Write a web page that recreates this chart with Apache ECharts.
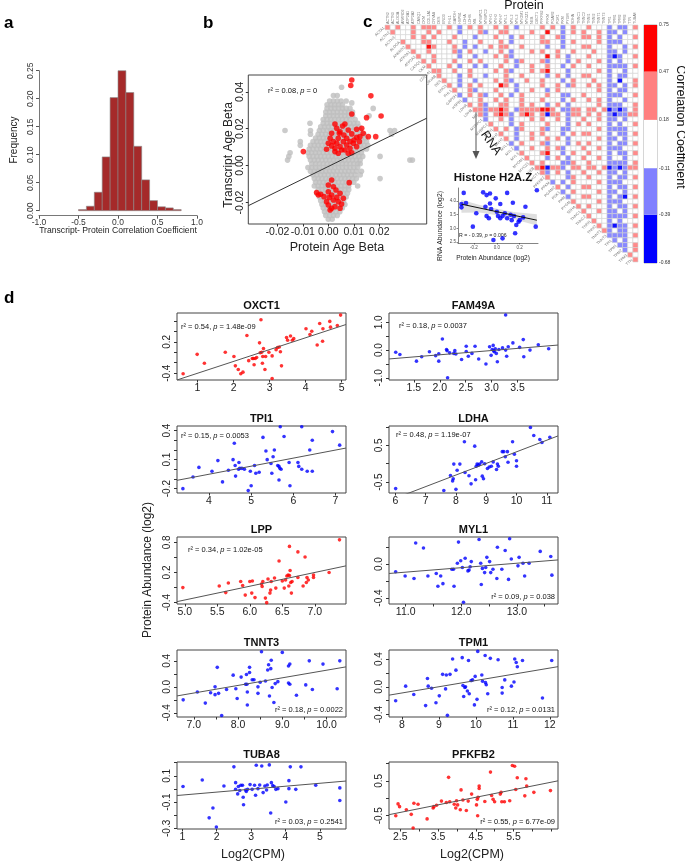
<!DOCTYPE html>
<html><head><meta charset="utf-8">
<script src="https://cdn.jsdelivr.net/npm/echarts@6/dist/echarts.min.js"></script>
<style>html,body{margin:0;padding:0;background:#fff}#c{width:685px;height:862px}</style>
</head><body><div id="c"></div>
<script>
// ================= DATA =================
// Panel a: histogram of transcript-protein correlation
const histEdges = [-0.5,-0.4,-0.3,-0.2,-0.1,0,0.1,0.2,0.3,0.4,0.5,0.6,0.7,0.8];
const histFreq  = [0.002,0.008,0.033,0.096,0.202,0.250,0.211,0.115,0.055,0.018,0.007,0.005,0.002];

// Panel b: age betas, in units of 0.001 ([y, [x...]] rows for the grey cloud)
const bGreyRowsMilli = [
 [42.5,[5.2]],[38,[2.0,3.5]],[35,[0.5,2,3.5,5,7]],[34,[9.2]],
 [33,[-0.5,1,2.5,4,5.5]],[31,[-0.5,1,2.5,4,5.5,7,8.5,17.6]],
 [29,[-1,0.5,2,3.5,5,6.5,8,9.5]],[27,[-1,0.5,2,3.5,5,6.5,8,9.5,16]],
 [25,[-2,-0.5,1,2.5,4,5.5,7,8.5,10.5]],[23,[-7.2,-2,-0.5,1,2.5,4,5.5,7,8.5,10,11.5]],
 [21,[-3,-1.5,0,1.5,3,4.5,6,7.5,9,10.5,12]],
 [19,[-17,-7,-3.5,-2,-0.5,1,2.5,4,5.5,7,8.5,10,11.5,12.5,24.2,26]],
 [17,[-7,-4,-2.5,-1,0.5,2,3.5,5,6.5,8,9.5,11,12.5,14,24.8]],
 [15,[-5,-3.5,-2,-0.5,1,2.5,4,5.5,7,8.5,10,11.5,13,14.5]],
 [13,[-11,-6,-4.5,-3,-1.5,0,1.5,3,4.5,6,7.5,9,10.5,12,13.5,15]],
 [11,[-11,-7,-5.5,-4,-2.5,-1,0.5,2,3.5,5,6.5,8,9.5,11,12.5,14,15.5]],
 [9,[-7.5,-6,-4.5,-3,-1.5,0,1.5,3,4.5,6,7.5,9,10.5,12,13.5,15]],
 [7,[-15,-8,-6.5,-5,-3.5,-2,-0.5,1,2.5,4,5.5,7,8.5,10,11.5,13]],
 [5,[-15.5,-7.5,-6,-4.5,-3,-1.5,0,1.5,3,4.5,6,7.5,9,10.5,12,13.5,20.3]],
 [3,[-16,-7,-5.5,-4,-2.5,-1,0.5,2,3.5,5,6.5,8,9.5,11,12.5,32,33]],
 [1,[-6.5,-5,-3.5,-2,-0.5,1,2.5,4,5.5,7,8.5,10,11.5,12.5]],
 [-1,[-8,-6.5,-5,-3.5,-2,-0.5,1,2.5,4,5.5,7,8.5,10,11.5]],
 [-3,[-7,-5.5,-4,-2.5,-1,0.5,2,3.5,5,6.5,8,9.5,11,13]],
 [-5,[-6,-4.5,-3,-1.5,0,1.5,3,4.5,6,7.5,9,10.5,12.5]],
 [-7,[-5.5,-4,-2.5,-1,0.5,2,3.5,5,6.5,8,9.5,11,20.3]],
 [-9,[-5,-3.5,-2,-0.5,1,2.5,4,5.5,7,8.5,10]],
 [-11,[-5.5,-4,-2.5,-1,0.5,2,3.5,5,6.5,8,11.5]],
 [-13,[-4,-2.5,-1,0.5,2,3.5,5,6.5,8]],
 [-15,[-4.5,-3,-1.5,0,1.5,3,4.5,6,7.5]],
 [-17,[-3.5,-2,-0.5,1,2.5,4,5.5,7]],
 [-19,[-3,-1.5,0,1.5,3,4.5,6]],
 [-21,[-2.5,-1,0.5,2,3.5,5,6.5]],
 [-23,[-2,-0.5,1,2.5,4,5.5]],
 [-25,[-1.5,0,1.5,3,4.5]],
 [-27,[-1,0.5,2,3.5]],
 [-29,[0,1.5]],
 [-34,[-1]]
];
const bRedMilli = [
 [9.2,46.4],[8.8,43.4],[16.7,37.8],[9.2,28.0],[15.0,26.0],[20.7,26.9],[18.6,15.7],[-9.8,7.6],
 [2.6,22.6],[6.5,22.6],[3.3,20.2],[5.6,21.5],[7.8,19.3],[11.1,19.7],[13.1,20.2],[13.7,17.5],
 [12.4,15.7],[15.7,15.7],[1.3,17.5],[4.3,17.5],[6.1,16.6],[9.2,17.2],[11.1,15.4],[-0.7,8.9],
 [1.3,10.7],[3.3,12.1],[4.6,10.3],[5.9,13.0],[7.2,11.2],[8.5,9.4],[9.8,12.1],[11.1,10.3],
 [2.6,7.6],[3.9,6.7],[5.2,8.5],[7.8,6.7],[9.2,7.0],[0.7,14.8],[2.0,13.0],[3.9,14.8],
 [7.2,14.8],[10.1,13.9],[12.2,13.0],[4.6,18.4],[0,12.1],[2.6,9.4],[6.5,8.5],[8.5,13.0],
 [1.3,-7.8],[8.2,-9.2],[0,-10.5],[2.0,-11.4],[3.0,-13.2],[0,-14.1],[-4.6,-14.6],[-3.9,-15.9],
 [-3.0,-15.5],[1.3,-15.9],[3.3,-17.2],[4.6,-15.0],[5.9,-17.7],[-0.7,-19.5],[2.0,-18.6],[3.9,-19.5],
 [5.2,-20.8],[0,-21.3],[1.3,-23.1],[0.7,-24.0],[2.6,-22.2],[-1.7,-16.8],[0.4,-17.2],[4.6,-23.1]
];
const bFit = [0.677, -0.00044]; // slope, intercept
const bStat = ['0.08', '0'];

// Panel c: correlation heatmap (upper triangle), '.' neutral, r/R positive, b/B negative
const proteins = ['ACTA1','ACTN2','ACTN3','ALDOA','ANKRD2','ATP2A1','ATP2A2','CASQ1','CKM','COL1A1',
 'CRYAB','DES','ENO3','FHL1','GAPDH','HSPB1','LDHA','LDHB','MB','MYBPC1','MYBPC2','MYH1','MYH2','MYH7',
 'MYL1','MYL2','MYL3','MYOM1','MYOZ1','NEB','OXCT1','PFKFB2','PFKM','PGAM2','PGK1','PKM','PYGM','SDHA',
 'TNNC1','TNNC2','TNNI1','TNNI2','TNNT1','TNNT3','TPI1','TPM1','TPM2','TPM3','TTN','TUBA8'];
const heatRows = [
 ".r.r..r.rr r..r.b.r.r ..r.r.b... .r.r.b.r.. r...b.bb.r",
 "..r...r..r .r...b...r b..rr....r ..R..b.r.r ..r.bb.b..",
 "......r.r. r...r...b. ..r..b.r.. .r..rb...r r.r.b.b..r",
 "....r...rr ...r..b..r ...r.b.... .rr..b.r.. ..r.bbb...",
 ".....r...R r...r.b.b. .r.rr..r.. ..b..b...r r...b..b.r",
 "......r..r ....rb.r.. b..r.b...r .r..r..r.. .r..bb.b..",
 ".......r.. r....b..b. ..r.rb.... ..R.r.b... r...bBb..r",
 "........r. r...r..r.r ....r.br.. .rb...b.r. ..r.b.b...",
 ".........r ...r.b..b. b..r..b..r ..r..b.r.. r...bbbb.r",
 ".......... rr..r..r.. ..r.rb...r .rR...b... ..r.b..b..",
 ".......... .r...b.r.. b...r..r.. ..b.r.b..r r...b.bb..",
 ".......... ..r..b..b. ..r.rb..r. .r...b.r.. .r..b.B..r",
 ".......... ...r.b.r.r ...Rr.b... .r..r.br.. r.r.bb.b.r",
 ".......... ....r..rb. ..r...b..r ..b.r..... ..r.b.bb..",
 ".......... .....b.r.r b..r.b.r.. ..r..bb..r ....bbb..r",
 ".......... ......b..r ..r.r..r.. .r...b.r.. r.r.b..b..",
 ".......... .......r.r b..rr..r.r ..b.r.b... ..r.bbb..r",
 ".......... ........rr brrRr.brrr rRRr.bbrr. rr.rBbBb.r",
 ".......... .........r b.rRrb.rRr .rBrr.brr. r.r.bBbbrr",
 ".......... .......... b..r.b...r .r..r.b..r ..r.bb.b..",
 ".......... .......... .r...b.r.. ..r...b.r. r...b.b..r",
 ".......... .......... ..r.r.br.. .rb..bb... ..r.bbbb..",
 ".......... .......... ...r..b..r .r...b.r.r r...b.bb.r",
 ".......... .......... ....r.b..r ..r.r.b... ..r.bb.b..",
 ".......... .......... .....b.r.. .rb...b.r. r...b.bb.r",
 ".......... .......... ......b..r ..r.rb...r ..r.bbb...",
 ".......... .......... .......r.. .rR..b.r.. r...b.bb.r",
 ".......... .......... ........r. ..b.r.b..r ..r.b..b..",
 ".......... .......... .........r .r...bbr.. r...bbbb.r",
 ".......... .......... .......... rRBrrb.rr. rr.rBbBbrr",
 ".......... .......... .......... .rb.r.b..r ..r.bb.b..",
 ".......... .......... .......... ..r...br.. r...b.bb.r",
 ".......... .......... .......... ...b.b.r.. ..r.bbb...",
 ".......... .......... .......... ....r.b..r r...b.bb.r",
 ".......... .......... .......... .....b.r.. ..r.bb.b..",
 ".......... .......... .......... ......b..r r...b.bB.r",
 ".......... .......... .......... .......r.. ..r.bbb...",
 ".......... .......... .......... ........r. r...b.bb.r",
 ".......... .......... .......... .........r ..r.bb.b..",
 ".......... .......... .......... .......... r...bbbb.r",
 ".......... .......... .......... .......... .r..b.b...",
 ".......... .......... .......... .......... ..r.bBbb.r",
 ".......... .......... .......... .......... ...rb.bb..",
 ".......... .......... .......... .......... ....bbbb.r",
 ".......... .......... .......... .......... .....b.b..",
 ".......... .......... .......... .......... ......bb.r",
 ".......... .......... .......... .......... .......b.r",
 ".......... .......... .......... .......... ........r.",
 ".......... .......... .......... .......... .........r",
 ".......... .......... .......... .......... .........."
];
const colorBreaks = [-0.68,-0.39,-0.11,0.18,0.47,0.75];

// Panel c inset: Histone H2A.Z
const insetPts = [[-0.31,3.77],[-0.31,3.89],[-0.29,4.3],[-0.27,3.93],[-0.21,3.06],[-0.18,3.55],[-0.12,4.32],
 [-0.1,3.79],[-0.09,4.22],[-0.09,3.45],[-0.07,3.37],[-0.06,3.91],[-0.06,4.28],[-0.05,3.71],[-0.03,2.57],
 [-0.01,4.1],[0.0,3.61],[0.01,3.45],[0.03,3.37],[0.03,3.89],[0.05,2.63],[0.05,3.45],[0.07,3.55],[0.09,4.3],
 [0.09,3.37],[0.12,3.5],[0.13,3.3],[0.14,3.94],[0.15,3.45],[0.16,2.82],[0.17,3.12],[0.19,3.24],[0.2,3.3],
 [0.25,3.79],[0.23,3.4],[0.34,3.06],[0.35,4.4]];
const insetFit = [-0.894, 3.61];
const insetBand = [[-0.31,3.57,4.05],[-0.15,3.58,3.86],[0.0,3.48,3.72],[0.15,3.33,3.6],[0.35,3.1,3.52]];

// Panel d: log2(CPM) vs protein abundance
const OXCT1 = [[0.6,-0.41],[0.99,-0.04],[1.19,-0.21],[1.77,0.0],[2.01,-0.08],[2.05,-0.26],[2.13,-0.33],[2.2,-0.41],[2.26,-0.38],[2.37,0.32],[2.42,-0.16],[2.52,-0.12],[2.55,-0.12],[2.6,-0.12],[2.64,-0.1],[2.57,-0.24],[2.72,0.18],[2.76,0.62],[2.74,-0.01],[2.78,0.0],[2.81,-0.08],[2.83,0.07],[2.8,-0.21],[2.87,-0.33],[2.89,-0.08],[2.98,0.0],[3.07,-0.07],[3.07,-0.5],[3.18,0.05],[3.22,0.09],[3.27,0.1],[3.3,0.01],[3.33,-0.26],[3.47,0.28],[3.5,0.23],[3.58,0.31],[3.63,0.23],[3.67,0.26],[4.01,0.45],[4.12,0.34],[4.17,0.4],[4.32,0.14],[4.39,0.55],[4.47,0.21],[4.48,0.45],[4.67,0.59],[4.69,0.48],[4.88,0.51],[4.97,0.71]];
const TPI1 = [[3.38,-0.2],[3.62,-0.08],[3.76,0.02],[4.07,-0.02],[4.21,0.09],[4.32,-0.13],[4.46,-0.01],[4.57,0.1],[4.6,0.27],[4.62,0.04],[4.63,-0.07],[4.7,0.0],[4.71,0.07],[4.73,0.01],[4.78,0.01],[4.84,0.0],[4.93,-0.22],[4.98,-0.02],[5.0,-0.17],[5.08,0.04],[5.11,-0.04],[5.19,-0.03],[5.28,0.33],[5.35,0.19],[5.38,0.1],[5.47,0.06],[5.52,0.13],[5.55,0.2],[5.49,-0.04],[5.63,0.04],[5.66,0.03],[5.68,0.01],[5.66,-0.11],[5.71,0.0],[5.69,0.44],[5.78,0.34],[5.9,0.07],[5.92,-0.17],[6.11,0.07],[6.13,0.03],[6.2,0.0],[6.2,0.44],[6.33,-0.02],[6.39,0.2],[6.45,0.3],[6.45,-0.02],[6.93,0.39],[7.1,0.25]];
const LPP = [[4.97,-0.1],[5.53,-0.07],[5.63,-0.2],[5.67,-0.01],[5.86,0.02],[5.89,-0.06],[5.93,-0.25],[6.0,0.02],[6.04,0.03],[6.03,-0.21],[6.08,-0.3],[6.18,-0.03],[6.2,0.02],[6.19,-0.08],[6.24,-0.31],[6.26,-0.4],[6.28,0.07],[6.31,-0.21],[6.33,0.02],[6.32,-0.15],[6.38,0.09],[6.4,-0.11],[6.45,0.43],[6.5,0.03],[6.53,-0.11],[6.55,0.05],[6.57,0.13],[6.59,0.15],[6.61,0.14],[6.61,0.72],[6.62,0.24],[6.6,-0.07],[6.63,0.0],[6.65,0.02],[6.64,-0.21],[6.74,0.61],[6.74,0.1],[6.82,-0.07],[6.85,0.51],[6.87,0.0],[6.88,0.1],[6.9,0.05],[6.98,0.15],[6.98,0.1],[7.22,0.2],[7.38,0.85]];
const TNNT3 = [[6.76,-0.2],[7.08,-0.08],[7.26,-0.25],[7.38,-0.09],[7.48,0.0],[7.48,-0.12],[7.53,0.3],[7.56,-0.1],[7.63,-0.44],[7.74,-0.04],[7.89,0.18],[7.95,-0.03],[7.98,-0.18],[8.07,0.15],[8.17,0.04],[8.19,0.19],[8.2,0.04],[8.21,-0.08],[8.21,-0.28],[8.26,0.22],[8.26,0.3],[8.32,0.11],[8.36,0.11],[8.45,0.0],[8.45,-0.1],[8.5,0.07],[8.53,0.54],[8.62,0.09],[8.67,0.26],[8.69,0.34],[8.71,-0.14],[8.74,0.28],[8.75,0.41],[8.77,-0.01],[8.81,-0.24],[8.84,0.05],[8.9,0.08],[9.0,0.53],[9.14,0.32],[9.14,0.06],[9.17,0.35],[9.17,0.04],[9.32,-0.13],[9.53,0.03],[9.61,0.4],[9.68,-0.04],[9.92,0.35],[10.24,-0.03],[10.3,0.4]];
const TUBA8 = [[1.02,0.018],[1.58,0.068],[1.78,-0.22],[1.89,-0.145],[1.99,-0.29],[2.21,0.022],[2.5,0.168],[2.55,0.048],[2.55,-0.003],[2.61,-0.038],[2.63,0.018],[2.67,-0.012],[2.7,0.028],[2.75,0.028],[2.77,-0.063],[2.78,-0.12],[2.84,-0.008],[2.86,-0.02],[2.9,-0.003],[2.97,0.033],[3.03,-0.003],[3.1,0.028],[3.13,-0.048],[3.15,0.18],[3.2,0.002],[3.25,0.03],[3.31,0.175],[3.35,-0.028],[3.4,0.022],[3.45,-0.008],[3.47,0.03],[3.53,0.183],[3.57,-0.183],[3.59,0.048],[3.63,0.025],[3.67,0.018],[3.72,-0.003],[3.78,0.002],[4.01,-0.1],[4.1,0.063],[4.1,0.002],[4.14,0.168],[4.3,-0.003],[4.45,0.168],[4.88,0.028],[5.58,0.008],[5.58,-0.088]];
const FAM49A = [[1.15,-0.08],[1.23,-0.16],[1.55,-0.4],[1.65,-0.24],[1.8,-0.06],[1.92,-0.2],[1.98,-0.4],[1.98,-0.13],[2.05,0.4],[2.13,0.02],[2.14,-0.02],[2.15,-1.0],[2.19,-0.1],[2.27,-0.12],[2.29,-0.02],[2.31,-0.14],[2.42,-0.34],[2.51,0.14],[2.51,-0.05],[2.55,-0.22],[2.62,-0.12],[2.68,0.14],[2.75,-0.32],[2.89,-0.5],[2.96,0.12],[2.99,-0.19],[3.01,0.02],[3.03,0.17],[3.04,-0.02],[3.05,-0.06],[3.07,0.05],[3.09,-0.12],[3.11,-0.42],[3.14,0.02],[3.21,0.08],[3.27,0.0],[3.27,1.27],[3.29,-0.22],[3.32,0.12],[3.41,0.26],[3.54,0.1],[3.61,0.38],[3.62,-0.24],[3.74,0.0],[3.9,0.19],[4.1,0.05]];
const LDHA = [[6.01,-0.68],[7.6,-0.73],[7.82,-0.32],[7.89,-0.47],[7.91,-0.41],[7.93,-0.01],[8.0,-0.7],[8.04,-0.18],[8.13,-0.01],[8.28,0.6],[8.3,-0.24],[8.43,-0.33],[8.5,-0.55],[8.62,0.48],[8.65,-0.44],[8.67,-0.07],[8.7,-0.01],[8.74,-0.04],[8.78,-0.01],[8.85,0.05],[8.87,-0.34],[8.91,-0.41],[8.95,0.0],[9.04,-0.13],[9.1,-0.09],[9.17,-0.07],[9.23,0.05],[9.34,-0.16],[9.37,-0.01],[9.4,-0.07],[9.53,0.33],[9.58,0.33],[9.63,0.19],[9.7,0.33],[9.72,0.04],[9.87,0.6],[9.93,0.26],[10.0,0.08],[10.0,-0.07],[10.46,0.99],[10.57,0.77],[10.77,0.66],[10.84,0.58],[11.1,0.72]];
const MYL1 = [[10.82,-0.09],[10.99,-0.14],[11.15,-0.17],[11.18,0.25],[11.32,0.19],[11.4,-0.14],[11.55,-0.11],[11.58,-0.26],[11.63,-0.14],[11.67,-0.23],[11.87,-0.26],[11.83,-0.06],[11.86,-0.06],[11.93,0.01],[11.95,0.26],[11.99,0.04],[12.02,-0.04],[12.04,-0.45],[12.07,0.07],[12.12,-0.08],[12.14,-0.07],[12.16,-0.03],[12.18,0.03],[12.32,0.29],[12.35,0.01],[12.36,-0.24],[12.38,-0.05],[12.42,-0.1],[12.44,-0.04],[12.46,0.08],[12.51,0.03],[12.53,-0.1],[12.57,-0.06],[12.64,-0.17],[12.65,0.2],[12.73,-0.06],[12.79,0.16],[12.85,-0.18],[12.87,0.3],[12.9,0.06],[13.02,-0.02],[13.04,0.08],[13.11,0.01],[13.14,-0.14],[13.22,0.01],[13.42,0.15],[13.61,0.09],[13.63,-0.13]];
const TPM1 = [[7.83,-0.2],[8.1,0.01],[8.32,-0.11],[8.64,-0.27],[8.69,0.12],[8.71,0.01],[8.8,-0.02],[8.92,-0.23],[9.01,-0.13],[9.1,0.18],[9.18,-0.03],[9.2,0.17],[9.23,-0.41],[9.3,0.18],[9.37,0.4],[9.46,0.24],[9.63,0.42],[9.65,0.02],[9.67,-0.14],[9.7,-0.01],[9.72,0.0],[9.77,-0.06],[9.8,0.38],[9.82,-0.1],[9.87,0.09],[9.91,0.1],[9.96,-0.26],[9.98,0.15],[10.03,-0.18],[10.05,0.51],[10.16,0.17],[10.18,0.08],[10.25,0.45],[10.26,0.06],[10.28,0.03],[10.32,-0.1],[10.39,0.41],[10.6,0.39],[10.71,-0.01],[10.71,-0.09],[10.78,0.1],[10.96,0.01],[11.03,0.07],[11.05,0.4],[11.09,0.35],[11.12,0.29],[11.26,0.38],[11.8,-0.16],[12.05,0.38]];
const PFKFB2 = [[2.38,-0.5],[2.44,-0.16],[2.48,-0.24],[2.66,-0.33],[2.79,-0.46],[2.84,-0.85],[2.86,-0.14],[2.97,-0.17],[3.21,-0.59],[3.37,-0.28],[3.39,-0.24],[3.46,-0.2],[3.59,-0.08],[3.72,-0.12],[3.78,0.6],[3.81,-0.1],[3.93,-0.17],[3.97,-0.28],[3.99,-0.07],[4.02,-0.19],[4.09,-0.33],[4.11,0.24],[4.16,-0.05],[4.25,-0.35],[4.3,-0.08],[4.39,0.12],[4.52,-0.19],[4.54,-0.03],[4.56,0.03],[4.59,0.28],[4.59,0.35],[4.55,-0.5],[4.74,-0.09],[4.89,0.75],[4.92,0.08],[4.96,-0.03],[5.0,-0.1],[5.15,0.12],[5.17,0.17],[5.19,-0.1],[5.26,-0.1],[5.4,-0.07],[5.47,0.94],[5.53,0.92],[5.56,0.25],[5.6,0.59],[5.8,0.07],[5.83,0.56],[5.85,0.35],[6.04,0.17],[6.48,0.22]];

// fits [slope, intercept], stats [r2, p], axis ranges and ticks
const dGenes = ['OXCT1','TPI1','LPP','TNNT3','TUBA8','FAM49A','LDHA','MYL1','TPM1','PFKFB2'];
const dData  = [OXCT1, TPI1, LPP, TNNT3, TUBA8, FAM49A, LDHA, MYL1, TPM1, PFKFB2];
const dColor = ['red','blue','red','blue','blue','blue','blue','blue','blue','red'];
const dFit = [[0.226,-0.627],[0.0833,-0.384],[0.274,-1.717],[0.117,-0.914],[0.0224,-0.069],
              [0.154,-0.477],[0.317,-2.845],[0.0526,-0.673],[0.0897,-0.806],[0.2165,-0.946]];
const dStat = [['0.54','1.48e-09'],['0.15','0.0053'],['0.34','1.02e-05'],['0.18','0.0022'],['0.03','0.2541'],
               ['0.18','0.0037'],['0.48','1.19e-07'],['0.09','0.038'],['0.12','0.0131'],['0.55','6.77e-09']];
const dXRange = [[0.43,5.12],[3.24,7.25],[4.88,7.48],[6.62,10.44],[0.845,5.76],[1.02,4.28],[5.79,11.37],[10.70,13.74],[7.65,12.22],[2.2,6.68]];
const dYRange = [[-0.53,0.75],[-0.245,0.448],[-0.427,0.907],[-0.464,0.567],[-0.305,0.205],[-1.08,1.34],[-0.80,1.03],[-0.47,0.32],[-0.434,0.53],[-0.88,1.04]];
const dXTicks = [[1,2,3,4,5],[4,5,6,7],[5,5.5,6,6.5,7],[7,7.5,8,8.5,9,9.5,10],[1,2,3,4,5],[1.5,2,2.5,3,3.5],[6,7,8,9,10,11],[11,11.5,12,12.5,13,13.5],[8,9,10,11,12],[2.5,3,3.5,4,4.5,5,5.5,6,6.5]];
const dXLabels = [[1,2,3,4,5],[4,5,6,7],[5,5.5,6,6.5,7],[7,8,9,10],[1,2,3,4,5],[1.5,2,2.5,3,3.5],[6,7,8,9,10,11],[11,12,13],[8,9,10,11,12],[2.5,3.5,4.5,5.5]];
const dYTicks = [[-0.4,-0.2,0,0.2,0.4,0.6],[-0.2,-0.1,0,0.1,0.2,0.3,0.4],[-0.4,-0.1,0.2,0.5,0.8],[-0.4,-0.2,0,0.2,0.4],[-0.3,-0.2,-0.1,0,0.1,0.2],[-1,-0.5,0,0.5,1],[-0.5,0,0.5,1],[-0.4,-0.2,0,0.2],[-0.4,-0.2,0,0.2,0.4],[-0.5,0,0.5,1]];
const dYLabels = [[-0.4,0.2],[-0.2,0.1,0.4],[-0.4,0.2,0.8],[-0.4,0,0.4],[-0.3,-0.1,0.1],[-1,0,1],[-0.5,0.5],[-0.4,0],[-0.4,0,0.4],[-0.5,0.5]];

// ================= LAYOUT / STYLE =================
const FONT = 'Liberation Sans';
const COLORS = {red:'#FF0000', blue:'#0000FF'};
const dDec = [[0,1],[0,1],[1,1],[1,1],[0,1],[1,1],[0,1],[1,1],[0,1],[1,1]];
const colLeft = [177, 389], rowTop = [313, 426, 537, 650, 762], BOXW = 169, BOXH = 67;
// stat label placement: [corner, dx, dy]
const dStatPos = [['tl',4,14],['tl',4,10],['tl',11,13],['br',3,7],['br',3,7],['tl',10,13],['tl',7,9],['br',3,7],['br',3,7],['br',3,7]];

const option = {animation:false, backgroundColor:'#fff', grid:[], xAxis:[], yAxis:[], series:[], graphic:[]};
function addCart(g, xa, ya){
  const i = option.grid.length;
  option.grid.push(Object.assign({outerBoundsMode:'none', containLabel:false}, g));
  const X = Object.assign({gridIndex:i, type:'value', splitLine:{show:false}}, xa);
  const Y = Object.assign({gridIndex:i, type:'value', splitLine:{show:false}}, ya);
  X.axisLine = Object.assign({show:false}, X.axisLine, {onZero:false});
  Y.axisLine = Object.assign({show:false}, Y.axisLine, {onZero:false});
  option.xAxis.push(X); option.yAxis.push(Y);
  return i;
}
function fmt(v, d){ return (Math.abs(v) < 1e-9 ? 0 : v).toFixed(d); }
function txt(x, y, text, o){
  option.graphic.push({type:'text', x, y, rotation:(o && o.rot)||0, silent:true,
    style:Object.assign({text, fontFamily:FONT, fontSize:11, fill:'#000', align:'center', verticalAlign:'middle'}, o && o.style)});
}
function statText(x, y, r2, p, align){
  option.graphic.push({type:'text', x, y, silent:true, style:{
    text:'{n|r² = '+r2+', }{i|p}{n| = '+p+'}', align, verticalAlign:'middle',
    rich:{n:{fontFamily:FONT, fontSize:7.5, fill:'#111'}, i:{fontFamily:FONT, fontSize:7.5, fontStyle:'italic', fill:'#111'}}}});
}

// ---------- Panel a ----------
{
  const gi = addCart({left:39, top:70.7, width:158, height:140, show:false},
    {min:-1, max:1, offset:5, axisLine:{show:true, lineStyle:{color:'#555', width:0.8}},
     axisTick:{length:3, customValues:[-1,-0.5,0,0.5,1], lineStyle:{color:'#555'}},
     axisLabel:{customValues:[-1,-0.5,0,0.5,1], formatter:v=>fmt(v,1), fontFamily:FONT, fontSize:8.5, color:'#333', margin:2.5}},
    {min:0, max:0.25, axisLine:{show:true, lineStyle:{color:'#555', width:0.8}},
     axisTick:{length:3, customValues:[0,0.05,0.1,0.15,0.2,0.25], lineStyle:{color:'#555'}},
     axisLabel:{customValues:[0,0.05,0.1,0.15,0.2,0.25], formatter:v=>fmt(v,2), rotate:90, fontFamily:FONT, fontSize:8.5, color:'#333', margin:4}});
  option.series.push({type:'custom', xAxisIndex:gi, yAxisIndex:gi, silent:true,
    data: histFreq.map((f,k)=>[histEdges[k], histEdges[k+1], f]),
    renderItem:(params, api)=>{
      const p0 = api.coord([api.value(0), 0]), p1 = api.coord([api.value(1), api.value(2)]);
      return {type:'rect', shape:{x:p0[0], y:p1[1], width:p1[0]-p0[0], height:p0[1]-p1[1]},
        style:{fill:'#A52A2A', stroke:'#8a8a8a', lineWidth:0.6}};
    }});
  txt(14, 140, 'Frequency', {rot:Math.PI/2, style:{fontSize:10, fill:'#222'}});
  txt(118, 231, 'Transcript- Protein Correlation Coefficient', {style:{fontSize:8.6, fill:'#222'}});
}

// ---------- Panel b ----------
{
  const xmin=-0.0314, xmax=0.0386;
  const gi = addCart({left:248.3, top:75, width:178.4, height:149, show:true, borderColor:'#444', borderWidth:1},
    {min:xmin, max:xmax,
     axisTick:{length:2.5, customValues:[-0.02,-0.01,0,0.01,0.02], lineStyle:{color:'#333'}},
     axisLabel:{customValues:[-0.02,-0.01,0,0.01,0.02], formatter:v=>fmt(v,2), fontFamily:FONT, fontSize:10.5, color:'#222', margin:2.5}},
    {min:-0.0316, max:0.0491,
     axisTick:{length:2.5, customValues:[-0.02,0,0.02,0.04], lineStyle:{color:'#333'}},
     axisLabel:{customValues:[-0.02,0,0.02,0.04], formatter:v=>fmt(v,2), rotate:90, fontFamily:FONT, fontSize:10.5, color:'#222', margin:2.5}});
  const grey = [];
  bGreyRowsMilli.forEach(([y, xs]) => xs.forEach(x => grey.push([x/1000, y/1000])));
  option.series.push({type:'scatter', xAxisIndex:gi, yAxisIndex:gi, silent:true, symbolSize:5.6,
    itemStyle:{color:'#BEBEBE'}, data:grey});
  option.series.push({type:'scatter', xAxisIndex:gi, yAxisIndex:gi, silent:true, symbolSize:5.6,
    itemStyle:{color:'#FF0000'}, data:bRedMilli.map(([x,y])=>[x/1000,y/1000])});
  option.series.push({type:'line', xAxisIndex:gi, yAxisIndex:gi, silent:true, symbol:'none', clip:true,
    lineStyle:{color:'#333', width:1}, data:[[xmin, bFit[1]+bFit[0]*xmin],[xmax, bFit[1]+bFit[0]*xmax]]});
  statText(268, 91, bStat[0], bStat[1], 'left');
  txt(229, 155, 'Transcript Age Beta', {rot:Math.PI/2, style:{fontSize:12, fill:'#222'}});
  txt(337, 248, 'Protein Age Beta', {style:{fontSize:12.5, fill:'#222'}});
}

// ---------- Panel c: heatmap ----------
{
  const N = proteins.length; // 50
  const gi = addCart({left:385, top:25, width:253, height:237, show:false},
    {min:1, max:N, show:false}, {min:0, max:N-1, inverse:true, show:false});
  const codes = {'.':0,'r':1,'R':2,'b':3,'B':4};
  const fills = ['#FFFFFF','#FF8A8A','#FF1010','#8A8AFF','#1010FF'];
  const cells = [];
  heatRows.forEach((s, i) => {
    const row = s.replace(/ /g,'');
    for (let j = i+1; j < N; j++) cells.push([j, i, codes[row[j]] || 0]);
  });
  option.series.push({type:'custom', xAxisIndex:gi, yAxisIndex:gi, silent:true, data:cells,
    renderItem:(params, api)=>{
      const p0 = api.coord([api.value(0), api.value(1)]), p1 = api.coord([api.value(0)+1, api.value(1)+1]);
      return {type:'rect', shape:{x:p0[0], y:p0[1], width:p1[0]-p0[0], height:p1[1]-p0[1]},
        style:{fill:fills[api.value(2)], stroke:'#D4D4D4', lineWidth:0.6}};
    }});
  const colIdx = []; for (let j = 1; j < N; j++) colIdx.push([j]);
  option.series.push({type:'custom', xAxisIndex:gi, yAxisIndex:gi, silent:true, data:colIdx,
    renderItem:(params, api)=>{
      const j = api.value(0), p = api.coord([j+0.5, 0]);
      return {type:'text', x:p[0], y:p[1]-1, rotation:Math.PI/2,
        style:{text:proteins[j], fontFamily:FONT, fontSize:3.6, fill:'#7a7a7a', align:'left', verticalAlign:'middle'}};
    }});
  const rowIdx = []; for (let i = 0; i < N-1; i++) rowIdx.push([i]);
  option.series.push({type:'custom', xAxisIndex:gi, yAxisIndex:gi, silent:true, data:rowIdx,
    renderItem:(params, api)=>{
      const i = api.value(0), p = api.coord([i+1, i+0.5]);
      return {type:'text', x:p[0]-1, y:p[1], rotation:Math.PI/4,
        style:{text:proteins[i], fontFamily:FONT, fontSize:3.8, fill:'#7a7a7a', align:'right', verticalAlign:'middle'}};
    }});
  txt(524, 6, 'Protein', {style:{fontSize:12.5, fill:'#111'}});

  // colour bar
  const cb = addCart({left:644, top:25, width:13, height:238, show:true, borderColor:'#777', borderWidth:0.6},
    {min:0, max:1, show:false},
    {min:colorBreaks[0], max:colorBreaks[5], position:'right', axisTick:{show:false},
     axisLabel:{customValues:colorBreaks, formatter:v=>fmt(v,2), fontFamily:FONT, fontSize:5, color:'#333', margin:2}});
  const barFill = ['#0000FF','#8080FF','#FFFFFF','#FF8080','#FF0000'];
  option.series.push({type:'custom', xAxisIndex:cb, yAxisIndex:cb, silent:true,
    data: barFill.map((c,k)=>[colorBreaks[k], colorBreaks[k+1], k]),
    renderItem:(params, api)=>{
      const p0 = api.coord([0, api.value(0)]), p1 = api.coord([1, api.value(1)]);
      return {type:'rect', shape:{x:p0[0], y:p1[1], width:p1[0]-p0[0], height:p0[1]-p1[1]},
        style:{fill:barFill[api.value(2)]}};
    }});
  txt(680, 127, 'Correlation Coefficient', {rot:-Math.PI/2, style:{fontSize:12.5, fill:'#111'}});

  // arrow + RNA label
  option.graphic.push({type:'line', silent:true, shape:{x1:476, y1:100, x2:476, y2:153}, style:{stroke:'#555', lineWidth:1}});
  option.graphic.push({type:'polygon', silent:true, shape:{points:[[472.5,151],[479.5,151],[476,159]]}, style:{fill:'#555'}});
  txt(491, 143, 'RNA', {rot:-0.96, style:{fontSize:12.5, fill:'#111'}});

  // inset
  txt(493, 178, 'Histone H2A.Z', {style:{fontSize:11.5, fontWeight:'bold', fill:'#111'}});
  const xi0=-0.34, xi1=0.36;
  const ii = addCart({left:458, top:188, width:80, height:55, show:false},
    {min:xi0, max:xi1, axisLine:{show:true, lineStyle:{color:'#333', width:0.6}},
     axisTick:{length:1.5, customValues:[-0.2,0,0.2], lineStyle:{color:'#333', width:0.6}},
     axisLabel:{customValues:[-0.2,0,0.2], formatter:v=>fmt(v,1), fontFamily:FONT, fontSize:4.5, color:'#4d4d4d', margin:2}},
    {min:2.46, max:4.48, axisLine:{show:true, lineStyle:{color:'#333', width:0.6}},
     axisTick:{length:1.5, customValues:[2.5,3,3.5,4], lineStyle:{color:'#333', width:0.6}},
     axisLabel:{customValues:[2.5,3,3.5,4], formatter:v=>fmt(v,1), fontFamily:FONT, fontSize:4.5, color:'#4d4d4d', margin:2}});
  option.series.push({type:'custom', xAxisIndex:ii, yAxisIndex:ii, silent:true, data:[[0]],
    renderItem:(params, api)=>{
      const up = insetBand.map(b=>api.coord([b[0], b[2]]));
      const lo = insetBand.slice().reverse().map(b=>api.coord([b[0], b[1]]));
      return {type:'polygon', shape:{points:up.concat(lo)}, style:{fill:'rgba(160,160,160,0.35)'}};
    }});
  option.series.push({type:'scatter', xAxisIndex:ii, yAxisIndex:ii, silent:true, symbolSize:4.6,
    itemStyle:{color:'#0000FF'}, data:insetPts});
  const xa=-0.31, xb=0.35;
  option.series.push({type:'line', xAxisIndex:ii, yAxisIndex:ii, silent:true, symbol:'none',
    lineStyle:{color:'#111', width:1}, data:[[xa, insetFit[1]+insetFit[0]*xa],[xb, insetFit[1]+insetFit[0]*xb]]});
  option.graphic.push({type:'text', x:459, y:236, silent:true, style:{
    text:'{n|R = - 0.39, }{i|p}{n| = 0.006}', align:'left', verticalAlign:'middle',
    rich:{n:{fontFamily:FONT, fontSize:5.2, fill:'#222'}, i:{fontFamily:FONT, fontSize:5.2, fontStyle:'italic', fill:'#222'}}}});
  txt(440, 226, 'RNA Abundance (log2)', {rot:Math.PI/2, style:{fontSize:6.8, fill:'#222'}});
  txt(493, 258, 'Protein Abundance (log2)', {style:{fontSize:6.5, fill:'#222'}});
}

// ---------- Panel d ----------
dGenes.forEach((g, k) => {
  const col = k < 5 ? 0 : 1, row = k % 5;
  const left = colLeft[col], top = rowTop[row];
  const [x0, x1] = dXRange[k], [y0, y1] = dYRange[k];
  const gi = addCart({left, top, width:BOXW, height:BOXH, show:true, borderColor:'#444', borderWidth:1},
    {min:x0, max:x1,
     axisTick:{length:2.5, customValues:dXTicks[k], lineStyle:{color:'#333'}},
     axisLabel:{customValues:dXLabels[k], formatter:v=>fmt(v, dDec[k][0]), fontFamily:FONT, fontSize:10.5, color:'#222', margin:2.5}},
    {min:y0, max:y1,
     axisTick:{length:3, customValues:dYTicks[k], lineStyle:{color:'#333'}},
     axisLabel:{customValues:dYLabels[k], formatter:v=>fmt(v, dDec[k][1]), rotate:90, fontFamily:FONT, fontSize:10, color:'#222', margin:5}});
  option.series.push({type:'scatter', xAxisIndex:gi, yAxisIndex:gi, silent:true, symbolSize:3.6,
    itemStyle:{color:COLORS[dColor[k]]}, data:dData[k]});
  const [m, b] = dFit[k];
  option.series.push({type:'line', xAxisIndex:gi, yAxisIndex:gi, silent:true, symbol:'none', clip:true,
    lineStyle:{color:'#555', width:1}, data:[[x0, b+m*x0],[x1, b+m*x1]]});
  txt(left + BOXW/2, top - 7, g, {style:{fontSize:11, fontWeight:'bold', fill:'#111'}});
  const [corner, dx, dy] = dStatPos[k];
  if (corner === 'tl') statText(left + dx, top + dy, dStat[k][0], dStat[k][1], 'left');
  else statText(left + BOXW - dx, top + BOXH - dy, dStat[k][0], dStat[k][1], 'right');
});
txt(148, 570, 'Protein Abundance (log2)', {rot:Math.PI/2, style:{fontSize:12, fill:'#222'}});
txt(253, 855, 'Log2(CPM)', {style:{fontSize:12.5, fill:'#222'}});
txt(472, 855, 'Log2(CPM)', {style:{fontSize:12.5, fill:'#222'}});

// panel letters
[['a',4,23],['b',203,23],['c',363,22],['d',4,298]].forEach(([t,x,y]) =>
  txt(x, y, t, {style:{fontSize:17, fontWeight:'bold', align:'left', fill:'#000'}}));

const chart = echarts.init(document.getElementById('c'), null, {renderer:'canvas'});
chart.setOption(option);
</script>
</body></html>
